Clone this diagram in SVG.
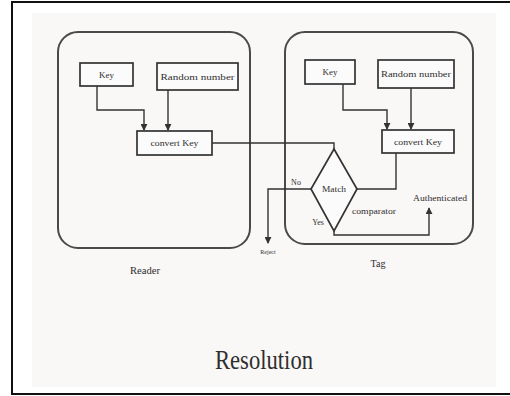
<svg xmlns="http://www.w3.org/2000/svg" width="510" height="396" viewBox="0 0 510 396">
<defs>
<marker id="ah" viewBox="0 0 8 8" refX="7" refY="4" markerWidth="5" markerHeight="5" orient="auto">
<path d="M0,0 L8,4 L0,8 Z" fill="#333"/>
</marker>
<style>
.grp{fill:none;stroke:#4a4a4a;stroke-width:2}
.box{fill:#fcfbfb;stroke:#333;stroke-width:1.7}
.ln{fill:none;stroke:#333;stroke-width:1.4}
.t{font-family:"Liberation Serif","Times New Roman",serif;fill:#2e2e2e;text-anchor:middle}
.s{font-size:9px}
.xs{font-size:6px}
</style>
</defs>
<rect x="0" y="0" width="510" height="396" fill="#ffffff"/>
<rect x="32" y="13" width="464" height="374" fill="#faf7f7"/>
<rect x="12" y="2" width="500" height="392" fill="none" stroke="#111" stroke-width="2"/>

<g id="reader">
<rect class="grp" x="58" y="32" width="192" height="216" rx="20"/>
<text class="t" x="145" y="274" font-size="10" textLength="30" lengthAdjust="spacingAndGlyphs">Reader</text>
</g>
<g id="tag">
<rect class="grp" x="285" y="32" width="188" height="212" rx="20"/>
<text class="t" x="378" y="267" font-size="10">Tag</text>
</g>
<g id="reader-key">
<rect class="box" x="80" y="63" width="53" height="23"/>
<text class="t s" x="106.5" y="78">Key</text>
</g>
<g id="reader-random">
<rect class="box" x="157" y="63" width="81" height="27"/>
<text class="t s" x="197.5" y="80" textLength="74" lengthAdjust="spacingAndGlyphs">Random number</text>
</g>
<g id="reader-convert">
<rect class="box" x="137" y="131" width="75" height="24"/>
<text class="t s" x="174.5" y="146" textLength="48" lengthAdjust="spacingAndGlyphs">convert Key</text>
</g>
<g id="tag-key">
<rect class="box" x="305" y="60" width="50" height="24"/>
<text class="t s" x="330" y="75">Key</text>
</g>
<g id="tag-random">
<rect class="box" x="378" y="60" width="76" height="28"/>
<text class="t s" x="416" y="77" textLength="70" lengthAdjust="spacingAndGlyphs">Random number</text>
</g>
<g id="tag-convert">
<rect class="box" x="382" y="130" width="72" height="23"/>
<text class="t s" x="418" y="145" textLength="48" lengthAdjust="spacingAndGlyphs">convert Key</text>
</g>
<g id="comparator">
<polygon class="box" points="334,149 357,189 334,231 311,189"/>
<text class="t s" x="334" y="192" textLength="24" lengthAdjust="spacingAndGlyphs">Match</text>
<text class="t" x="374" y="214" font-size="8" textLength="44" lengthAdjust="spacingAndGlyphs">comparator</text>
</g>

<g id="connectors">
<path class="ln" d="M97,86 V110 H144 V130" marker-end="url(#ah)"/>
<path class="ln" d="M168,90 V130" marker-end="url(#ah)"/>
<path class="ln" d="M343,84 V110 H387 V129" marker-end="url(#ah)"/>
<path class="ln" d="M411,88 V129" marker-end="url(#ah)"/>
<path class="ln" d="M212,143 H334 V149"/>
<path class="ln" d="M396,153 V189 H357"/>
<path class="ln" d="M311,189 H268 V243" marker-end="url(#ah)"/>
<path class="ln" d="M334,231 V235 H429 V208" marker-end="url(#ah)"/>
<text class="t" x="296" y="185" font-size="8">No</text>
<text class="t" x="318" y="225" font-size="8">Yes</text>
<text class="t xs" x="268" y="254">Reject</text>
<text class="t" x="440" y="201" font-size="8" textLength="54" lengthAdjust="spacingAndGlyphs">Authenticated</text>
</g>

<text class="t" x="264" y="369" font-size="28" textLength="98" lengthAdjust="spacingAndGlyphs" fill="#3a3a3a">Resolution</text>
</svg>
